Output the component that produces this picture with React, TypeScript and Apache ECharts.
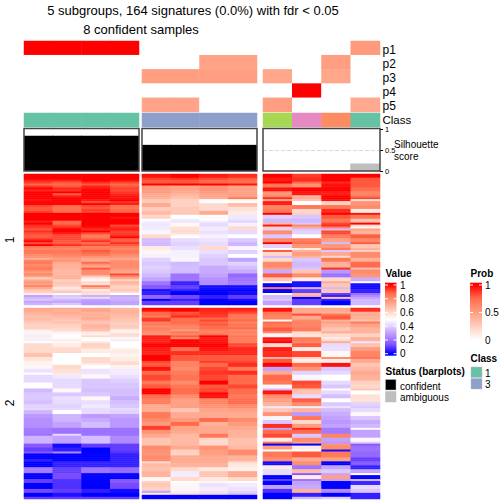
import React, { useEffect, useRef } from "react";
import * as echarts from "echarts";

const FONT = "Liberation Sans";
const columns = ["c1", "c2", "c3", "c4"];
const annotationNames = ["p1", "p2", "p3", "p4", "p5"];

// Heatmap values in percent, one row per signature, top to bottom.
const topA = [
[100,100,100,100],[100,100,100,100],[100,100,100,100],[96,96,100,98],[93,90,95,92],[88,88,90,88],[94,90,96,90],[100,96,98,93],[96,95,100,92],[100,100,100,94],
[100,90,100,96],[100,97,100,98],[100,100,100,98],[98,100,97,100],[100,100,92,95],[100,100,100,97],[92,88,92,87],[90,87,90,86],[90,87,93,88],[93,87,92,88],
[100,100,100,100],[100,100,100,100],[100,100,100,98],[100,100,100,100],[96,88,100,100],[100,88,100,100],[95,92,100,92],[93,95,98,95],[90,100,95,97],[95,100,100,93],
[92,97,92,93],[90,92,85,95],[90,92,85,100],[95,92,90,90],[100,90,95,90],[92,90,88,95],[100,95,92,90],[85,85,83,85],[82,82,85,82],[85,85,90,85],
[85,85,88,84],[80,82,85,80],[78,80,78,78],[70,75,72,72],[82,78,72,78],[85,72,88,80],[80,70,78,80],[82,70,72,80],[85,70,90,78],[80,68,80,75],
[75,68,80,72],[82,68,80,92],[75,70,65,82],[62,70,55,72],[72,62,52,62],[78,65,60,70],[75,65,58,68],[82,62,85,62],[72,55,70,62],[65,60,55,65],
[62,65,60,60],[55,48,58,50],[30,38,33,32],[35,40,42,34],[38,35,30,33],[30,30,28,30],[34,38,28,30],
];
const topB = [
[98,100,97,95],[98,100,97,95],[93,95,92,90],[90,90,88,87],[90,90,88,87],[100,100,100,98],[76,74,78,74],[76,74,78,74],[75,73,78,74],[76,72,76,74],
[72,70,74,75],[72,68,74,75],[70,66,72,85],[64,62,50,52],[64,62,50,50],[72,62,60,68],[72,62,60,66],[63,64,60,58],[63,64,60,58],[68,64,72,55],
[68,64,72,55],[60,50,50,45],[62,50,52,45],[50,46,50,44],[47,44,46,40],[45,52,42,47],[45,52,42,47],[46,58,46,60],[46,58,46,60],[48,60,44,42],
[48,58,44,42],[60,52,47,50],[60,50,47,50],[35,42,44,38],[36,42,44,38],[35,40,42,34],[35,40,42,34],[55,43,60,48],[55,43,60,48],[52,47,43,40],
[52,47,43,40],[47,47,40,50],[47,47,40,50],[40,48,38,30],[40,48,38,30],[38,35,38,40],[38,35,38,40],[40,36,32,36],[40,36,32,36],[38,36,32,32],
[38,36,32,32],[35,20,30,18],[35,20,30,18],[30,20,26,20],[30,20,26,20],[20,5,25,22],[20,5,25,22],[14,10,2,2],[14,10,2,2],[2,5,0,0],
[5,0,0,2],[5,0,0,2],[18,12,5,10],[18,12,5,10],[0,5,0,2],[10,10,0,0],[10,10,0,0],
];
const topC = [
[100,93,100,100],[100,93,100,100],[97,95,100,90],[97,95,100,90],[100,88,95,90],[85,78,98,90],[85,78,98,90],[98,100,100,88],[98,100,100,88],[78,98,97,82],
[78,98,97,82],[82,70,100,86],[95,72,100,92],[72,66,98,58],[97,50,62,78],[97,50,62,78],[82,85,85,80],[82,85,85,80],[85,60,95,55],[85,60,95,55],
[100,62,100,98],[40,38,90,85],[40,38,90,85],[35,35,85,66],[35,35,85,66],[68,38,92,100],[97,80,95,60],[62,72,82,52],[40,38,36,75],[80,40,92,70],
[80,40,92,70],[38,50,84,90],[38,50,84,90],[82,85,75,82],[82,85,75,82],[100,88,35,90],[40,78,78,65],[40,78,78,65],[50,55,85,70],[90,70,38,62],
[60,75,72,80],[60,75,72,80],[35,70,60,80],[60,38,85,70],[60,38,85,70],[80,35,70,88],[80,35,70,88],[80,35,70,88],[75,38,95,66],[32,65,28,80],
[32,65,28,80],[90,80,20,78],[90,80,20,78],[65,55,60,32],[65,55,60,32],[50,2,72,50],[0,2,65,2],[0,2,65,2],[85,35,35,2],[0,10,65,5],
[0,10,65,5],[50,68,10,20],[35,70,5,25],[35,0,65,30],[38,10,5,35],[30,10,0,35],[30,10,0,35],
];
const bottomA = [
[72,72,72,68],[72,70,74,70],[70,72,70,70],[68,70,70,68],[66,68,70,68],[68,66,72,65],[66,64,68,65],[64,66,64,63],[62,62,68,62],[62,62,70,64],
[62,60,68,62],[55,60,66,54],[52,54,56,54],[47,49,54,60],[55,50,60,58],[47,49,50,52],[47,55,50,46],[50,52,56,50],[60,55,62,50],[60,55,62,50],
[60,60,60,52],[60,60,55,55],[60,60,55,55],[66,50,50,53],[66,50,50,53],[57,50,60,55],[57,50,60,55],[53,50,60,58],[53,50,56,60],[52,60,50,53],
[52,60,50,53],[44,58,44,46],[44,58,44,46],[50,56,45,46],[42,45,52,43],[42,45,52,43],[42,42,38,40],[42,42,38,40],[50,42,38,38],[50,42,38,38],
[50,42,38,38],[35,52,36,36],[35,52,36,36],[38,38,38,36],[38,38,38,36],[38,43,52,32],[38,43,52,32],[36,42,43,36],[36,42,43,36],[40,40,45,38],
[40,40,45,38],[42,42,42,42],[34,50,42,40],[34,50,42,40],[28,34,28,30],[28,34,28,30],[26,34,32,28],[26,34,32,28],[26,30,36,28],[26,30,36,28],
[26,30,36,28],[22,20,20,20],[22,20,20,20],[22,20,20,20],[20,42,20,20],[34,30,36,25],[34,30,36,25],[34,30,36,25],[34,30,36,25],[15,2,10,10],
[15,2,10,10],[10,5,0,10],[10,5,0,10],[15,25,0,8],[0,0,0,5],[0,0,0,5],[0,0,0,5],[5,0,0,5],[0,5,5,5],[0,5,5,5],
[0,5,5,5],[22,10,20,18],[22,10,20,18],[22,10,20,18],[0,12,0,0],[0,12,0,0],[0,12,0,0],[10,8,0,15],[10,8,0,15],[0,8,0,12],
[0,8,0,12],[0,8,0,12],[12,10,5,2],[12,10,5,2],[0,3,0,0],[0,3,0,0],[10,10,10,10],
];
const bottomB = [
[100,100,96,97],[98,100,96,95],[88,90,95,92],[88,92,94,87],[84,95,93,85],[93,88,88,85],[94,86,92,88],[82,88,88,82],[85,85,90,86],[80,82,88,85],
[84,82,88,88],[82,76,84,80],[80,86,82,84],[78,82,86,82],[97,90,100,86],[97,82,97,85],[96,100,98,85],[96,100,98,85],[100,100,100,92],[100,100,100,92],
[97,88,98,96],[97,88,98,96],[96,95,95,95],[96,95,95,95],[100,90,90,90],[100,90,90,90],[100,90,90,90],[92,82,93,92],[90,82,88,95],[90,82,88,95],
[98,80,92,85],[98,80,92,85],[88,84,94,95],[88,84,94,95],[92,86,92,88],[92,86,92,88],[92,86,92,88],[85,80,100,88],[85,80,100,88],[90,85,90,92],
[90,85,90,92],[100,88,92,88],[100,88,92,88],[100,88,100,88],[88,80,98,85],[88,80,98,85],[84,75,82,88],[84,75,82,88],[84,75,82,88],[72,75,78,80],
[72,75,78,80],[72,65,74,75],[72,65,74,75],[85,72,72,72],[85,72,72,72],[85,72,72,72],[80,76,88,80],[80,76,88,80],[76,88,70,76],[76,88,70,76],
[93,74,72,72],[93,74,72,72],[78,72,72,70],[78,72,72,70],[72,68,85,70],[72,68,85,70],[65,68,60,66],[65,68,60,66],[65,68,60,66],[65,68,60,66],
[80,72,78,68],[80,72,78,68],[78,62,75,80],[78,62,75,80],[78,62,75,80],[80,72,72,70],[80,72,72,70],[80,72,72,70],[60,72,72,60],[68,70,70,56],
[68,70,70,56],[66,60,56,54],[66,60,56,54],[70,46,65,72],[70,46,65,72],[70,46,65,72],[52,60,56,60],[52,60,56,60],[62,50,52,50],[64,52,44,46],
[64,52,44,46],[62,48,46,44],[62,48,46,44],[30,55,58,40],[55,58,42,38],[0,0,0,0],[0,0,0,0],
];
const bottomC = [
[98,72,72,95],[98,72,72,95],[85,72,70,70],[84,92,85,72],[82,72,90,70],[82,72,90,70],[52,80,70,65],[88,82,75,85],[85,82,70,74],[85,82,70,74],
[90,85,65,70],[90,85,65,70],[80,60,72,70],[48,58,60,62],[48,58,60,62],[98,85,55,72],[97,85,60,70],[100,82,72,44],[60,90,42,66],[60,90,42,66],
[97,55,43,76],[97,55,43,76],[95,92,52,82],[95,92,52,82],[95,92,52,82],[70,60,80,85],[90,55,55,72],[90,55,55,72],[100,88,98,65],[100,88,98,65],
[30,78,38,68],[30,78,38,68],[72,40,42,72],[72,40,42,72],[88,48,50,70],[88,48,50,70],[88,48,50,70],[85,92,42,62],[85,92,42,62],[52,90,38,60],
[52,90,38,60],[35,68,50,65],[98,65,42,50],[98,65,42,50],[80,42,36,58],[80,42,36,58],[75,90,50,58],[75,90,50,58],[70,80,38,40],[70,80,38,40],
[45,46,44,38],[65,70,35,42],[65,70,35,42],[78,28,32,52],[78,28,32,52],[48,85,30,38],[48,85,30,38],[38,60,28,32],[38,60,28,32],[95,75,30,35],
[95,75,30,35],[30,95,22,52],[88,88,22,30],[88,88,22,30],[92,38,82,30],[92,38,82,30],[55,80,30,52],[55,80,30,52],[85,75,28,40],[0,0,78,15],
[75,55,80,20],[75,55,80,20],[50,50,2,20],[85,90,85,18],[85,90,85,18],[85,90,85,18],[80,72,75,10],[80,72,75,10],[2,80,0,15],[2,80,0,15],
[55,20,30,5],[55,20,30,5],[42,68,38,30],[42,68,38,30],[42,15,30,50],[0,55,75,0],[0,55,75,0],[10,20,30,35],[0,30,0,6],[0,30,0,6],
[30,32,0,42],[30,32,0,42],[8,70,25,38],[8,70,25,38],[0,5,0,5],[0,5,0,5],[0,35,40,5],
];

// Subgroup probabilities p1..p5 per column, percent.
const probA = [[100,100,100,100],[0,0,0,0],[0,0,0,0],[0,0,0,0],[0,0,0,0]];
const probB = [[0,0,0,0],[0,0,48,48],[50,50,50,50],[0,0,0,0],[47,47,0,0]];
const probC = [[0,0,0,52],[0,0,50,0],[46,0,46,0],[0,100,0,0],[50,0,0,44]];

// Class index per column: 1 green, 2 blue, 3 lime, 4 pink, 5 orange.
const classA = [1, 1, 1, 1];
const classB = [2, 2, 2, 2];
const classC = [3, 4, 5, 1];

// Silhouette scores per column.
const silhouetteA = [0.85, 0.85, 0.85, 0.85];
const silhouetteB = [0.63, 0.63, 0.63, 0.63];
const silhouetteC = [0, 0, 0, 0.18];

const valueTicks = ["1", "0.8", "0.6", "0.4", "0.2", "0"];
const probTicks = ["1", "0.5", "0"];

const VALUE_RAMP = ["#0000ff", "#7c4dff", "#b18aff", "#d9c5ff", "#ffffff", "#ffcfbf", "#ff9e81", "#ff6f4e", "#ff0000"];
const PROB_RAMP = ["#ffffff", "#ffcfbf", "#ff9e81", "#ff6f4e", "#ff0000"];

const cells = (rows: number[][]) => rows.flatMap((r, y) => r.map((v, x) => [x, y, v / 100]));
const indexes = (rows: number[][]) => rows.map((_, i) => String(i));

const GROUPS = [
  { left: 24, width: 115 },
  { left: 142, width: 115 },
  { left: 263, width: 117 },
];

function txt(text: string, x: number, y: number, size: number, extra: any = {}, styleExtra: any = {}) {
  return {
    type: "text", x, y, z: 20, silent: true, ...extra,
    style: { text, fontFamily: FONT, fontSize: size, fill: "#000", verticalAlign: "middle", align: "left", ...styleExtra },
  };
}

export default function App() {
  const ref = useRef<HTMLDivElement>(null);
  useEffect(() => {
    document.body.style.margin = "0";
    const chart = echarts.init(ref.current!, null, { renderer: "svg" });

    const grid: any[] = [];
    const xAxis: any[] = [];
    const yAxis: any[] = [];
    const series: any[] = [];
    const heatIdx: number[] = [];
    const probIdx: number[] = [];
    const classIdx: number[] = [];

    const addCat = (left: number, width: number, top: number, height: number, ys: string[]) => {
      grid.push({ left, width, top, height, show: false });
      const i = grid.length - 1;
      xAxis.push({ type: "category", gridIndex: i, data: columns, show: false });
      yAxis.push({ type: "category", gridIndex: i, data: ys, show: false, inverse: true });
      return i;
    };
    const addHeat = (bag: number[], i: number, data: any[]) => {
      bag.push(series.length);
      series.push({ type: "heatmap", xAxisIndex: i, yAxisIndex: i, data, progressive: 0, silent: true, itemStyle: { borderWidth: 0 }, emphasis: { disabled: true } });
    };

    const tops = [topA, topB, topC];
    const bottoms = [bottomA, bottomB, bottomC];
    const probs = [probA, probB, probC];
    const classes = [classA, classB, classC];
    const sil = [silhouetteA, silhouetteB, silhouetteC];

    GROUPS.forEach((g, k) => {
      addHeat(probIdx, addCat(g.left, g.width, 41, 71, annotationNames), cells(probs[k]));
      addHeat(classIdx, addCat(g.left, g.width, 113, 14, ["Class"]), classes[k].map((v, x) => [x, 0, v]));
      addHeat(heatIdx, addCat(g.left, g.width, 174, 131, indexes(tops[k])), cells(tops[k]));
      addHeat(heatIdx, addCat(g.left, g.width, 308, 191, indexes(bottoms[k])), cells(bottoms[k]));

      grid.push({ left: g.left, width: g.width, top: 129.5, height: 41.5, show: false });
      const i = grid.length - 1;
      xAxis.push({ type: "category", gridIndex: i, data: columns, show: false });
      yAxis.push({
        type: "value", gridIndex: i, min: 0, max: 1, interval: 0.5, position: "right",
        show: k === 2, splitLine: { show: false }, axisLine: { show: false },
        axisTick: { show: true, length: 3, lineStyle: { color: "#000" } },
        axisLabel: { fontFamily: FONT, fontSize: 7.5, color: "#000", margin: 5, formatter: (v: number) => String(v) },
      });
      series.push({
        type: "bar", xAxisIndex: i, yAxisIndex: i, barWidth: g.width / 4 + 1, silent: true,
        data: sil[k].map((v) => ({
          value: v,
          itemStyle: { color: k === 2 ? "#bebebe" : "#000" },
        })),
        markLine: k === 2 ? {
          silent: true, symbol: "none", label: { show: false },
          lineStyle: { type: "dashed", color: "#d9d9d9", width: 1 },
          data: [{ yAxis: 0.5 }],
        } : undefined,
      });
    });

    const valueY = (v: number) => 353.7 - 68.7 * v;
    const valueStops = VALUE_RAMP.map((color, i) => ({
      offset: (valueY(i / 8) - 282.7) / 73, color,
    })).reverse();
    const probY = (v: number) => 340 - 55 * v;
    const probStops = PROB_RAMP.map((color, i) => ({
      offset: (probY(i / 4) - 282.7) / 58, color,
    })).reverse();

    const graphic: any[] = [
      txt("5 subgroups, 164 signatures (0.0%) with fdr < 0.05", 193, 10, 13, {}, { align: "center" }),
      txt("8 confident samples", 141, 29, 13, {}, { align: "center" }),
      ...annotationNames.map((n, i) => txt(n, 382.5, [49.5, 63.5, 78, 92, 106][i], 12)),
      txt("Class", 382.5, 120, 11.5),
      txt("Silhouette", 394, 144.5, 10),
      txt("score", 394, 156, 10),
      txt("1", 10, 240, 12, { rotation: Math.PI / 2 }, { align: "center" }),
      txt("2", 10, 403, 12, { rotation: Math.PI / 2 }, { align: "center" }),
      ...GROUPS.map((g) => ({
        type: "rect", z: 15, silent: true,
        shape: { x: g.left, y: 128.5, width: g.width, height: 42.5 },
        style: { fill: "none", stroke: "#444", lineWidth: 1.5 },
      })),
      txt("Value", 385.5, 273.5, 10, {}, { fontWeight: "bold" }),
      {
        type: "rect", z: 15, silent: true, shape: { x: 385, y: 282.7, width: 11.5, height: 73 },
        style: { fill: { type: "linear", x: 0, y: 0, x2: 0, y2: 1, colorStops: valueStops } },
      },
      ...valueTicks.flatMap((t, i) => {
        const y = 285 + i * 13.74;
        return [
          txt(t, 400, y, 10),
          { type: "line", z: 16, silent: true, shape: { x1: 385, y1: y, x2: 388, y2: y }, style: { stroke: "#fff", lineWidth: 1 } },
          { type: "line", z: 16, silent: true, shape: { x1: 393.5, y1: y, x2: 396.5, y2: y }, style: { stroke: "#fff", lineWidth: 1 } },
        ];
      }),
      txt("Prob", 470.5, 273.5, 10, {}, { fontWeight: "bold" }),
      {
        type: "rect", z: 15, silent: true, shape: { x: 470, y: 282.7, width: 12, height: 58 },
        style: { fill: { type: "linear", x: 0, y: 0, x2: 0, y2: 1, colorStops: probStops } },
      },
      ...probTicks.flatMap((t, i) => {
        const y = 285 + i * 27.5;
        return [
          txt(t, 485, y, 10),
          { type: "line", z: 16, silent: true, shape: { x1: 470, y1: y, x2: 473, y2: y }, style: { stroke: "#fff", lineWidth: 1 } },
          { type: "line", z: 16, silent: true, shape: { x1: 479, y1: y, x2: 482, y2: y }, style: { stroke: "#fff", lineWidth: 1 } },
        ];
      }),
      txt("Class", 470.5, 358, 10, {}, { fontWeight: "bold" }),
      { type: "rect", z: 15, silent: true, shape: { x: 471, y: 367, width: 11, height: 10.5 }, style: { fill: "#66c2a5", stroke: "#bbb", lineWidth: 0.5 } },
      { type: "rect", z: 15, silent: true, shape: { x: 471, y: 378.5, width: 11, height: 10.5 }, style: { fill: "#8da0cb", stroke: "#bbb", lineWidth: 0.5 } },
      txt("1", 485, 373, 10),
      txt("3", 485, 384, 10),
      txt("Status (barplots)", 385.5, 371, 10, {}, { fontWeight: "bold" }),
      { type: "rect", z: 15, silent: true, shape: { x: 385.5, y: 379.5, width: 10.5, height: 10.5 }, style: { fill: "#000", stroke: "#bbb", lineWidth: 0.5 } },
      { type: "rect", z: 15, silent: true, shape: { x: 385.5, y: 391.5, width: 10.5, height: 10.5 }, style: { fill: "#bebebe", stroke: "#bbb", lineWidth: 0.5 } },
      txt("confident", 400, 386, 10),
      txt("ambiguous", 400, 397, 10),
    ];

    chart.setOption({
      animation: false,
      backgroundColor: "#fff",
      grid, xAxis, yAxis, series, graphic,
      visualMap: [
        { type: "continuous", show: false, min: 0, max: 1, seriesIndex: heatIdx, inRange: { color: VALUE_RAMP } },
        { type: "continuous", show: false, min: 0, max: 1, seriesIndex: probIdx, inRange: { color: PROB_RAMP } },
        {
          type: "piecewise", show: false, seriesIndex: classIdx, dimension: 2,
          pieces: [
            { value: 1, color: "#66c2a5" }, { value: 2, color: "#8da0cb" }, { value: 3, color: "#a6d854" },
            { value: 4, color: "#e78ac3" }, { value: 5, color: "#fc8d62" },
          ],
        },
      ],
    });
    return () => chart.dispose();
  }, []);
  return <div ref={ref} style={{ width: 504, height: 504 }} />;
}
